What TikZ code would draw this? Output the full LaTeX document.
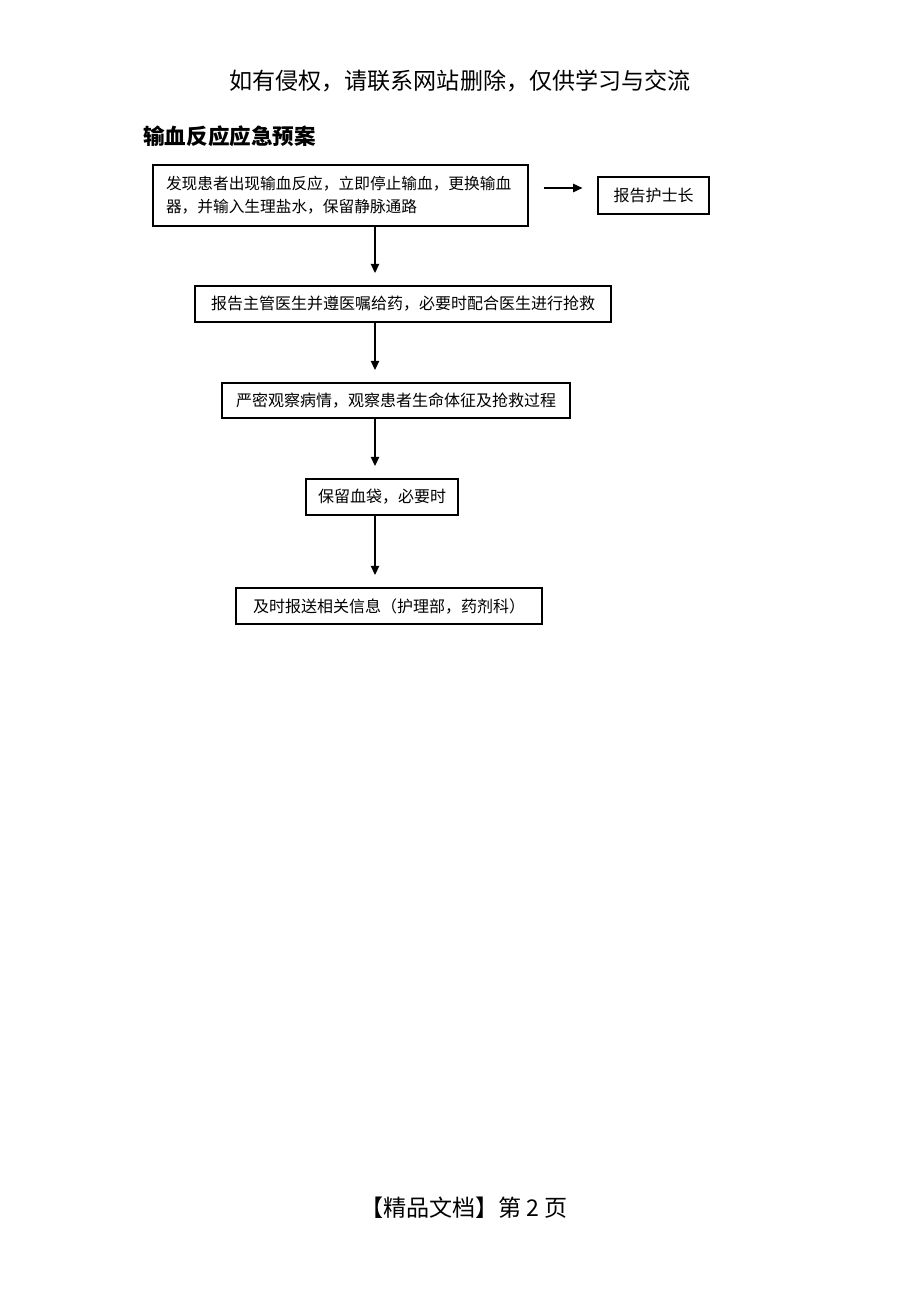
\documentclass[tikz,border=0pt]{standalone}
\usepackage{fontspec}
\setmainfont{Noto Sans CJK SC}
\usetikzlibrary{arrows.meta,positioning}
\newlength{\px}\setlength{\px}{0.65pt}
\tikzset{
  stepbox/.style={draw,line width=0.8pt,inner sep=0pt,font=\fontsize{10.4}{15}\selectfont},
  arr/.style={-{Triangle[length=6pt,width=5.5pt]},line width=0.7pt}
}

\begin{document}
\begin{tikzpicture}[x=0.65pt,y=-0.65pt]
\useasboundingbox (0,0) rectangle (920,1302);
% page head and title
\node (warn) at (460,81) {\fontsize{15}{18}\selectfont 如有侵权，请联系网站删除，仅供学习与交流};
\node[anchor=west,font=\fontsize{14}{17}\selectfont\bfseries] (title) at (138,136) {输血反应应急预案};
% steps
\node[stepbox,font=\fontsize{10.2}{15}\selectfont,minimum width=375\px,minimum height=61\px,text width=349\px,align=left] (find) at (340.5,195.5)
  {发现患者出现输血反应，立即停止输血，更换输血\\器，并输入生理盐水，保留静脉通路};
\node[stepbox,minimum width=111\px,minimum height=37\px] (nurse) at (653.5,195.5) {报告护士长};
\node[stepbox,minimum width=416\px,minimum height=36\px] (doctor) at (403,304) {报告主管医生并遵医嘱给药，必要时配合医生进行抢救};
\node[stepbox,minimum width=348\px,minimum height=35\px] (watch) at (396,400.5) {严密观察病情，观察患者生命体征及抢救过程};
\node[stepbox,minimum width=152\px,minimum height=36\px] (bag) at (382,497) {保留血袋，必要时};
\node[stepbox,minimum width=306\px,minimum height=36\px] (inform) at (389,606) {及时报送相关信息（护理部，药剂科）};
% arrows
\coordinate (t1) at (375,273);
\coordinate (t2) at (375,370);
\coordinate (t3) at (375,466);
\coordinate (t4) at (375,575);
\draw[arr] ([xshift=15\px,yshift=7.5\px]find.east) -- ([xshift=-15\px,yshift=7.5\px]nurse.west);
\draw[arr] (find.south -| t1) -- (t1);
\draw[arr] (doctor.south -| t2) -- (t2);
\draw[arr] (watch.south -| t3) -- (t3);
\draw[arr] (bag.south -| t4) -- (t4);
% page foot
\node (foot) at (464,1208) {\fontsize{15}{18}\selectfont 【精品文档】第\ 2\ 页};
\end{tikzpicture}
\end{document}
